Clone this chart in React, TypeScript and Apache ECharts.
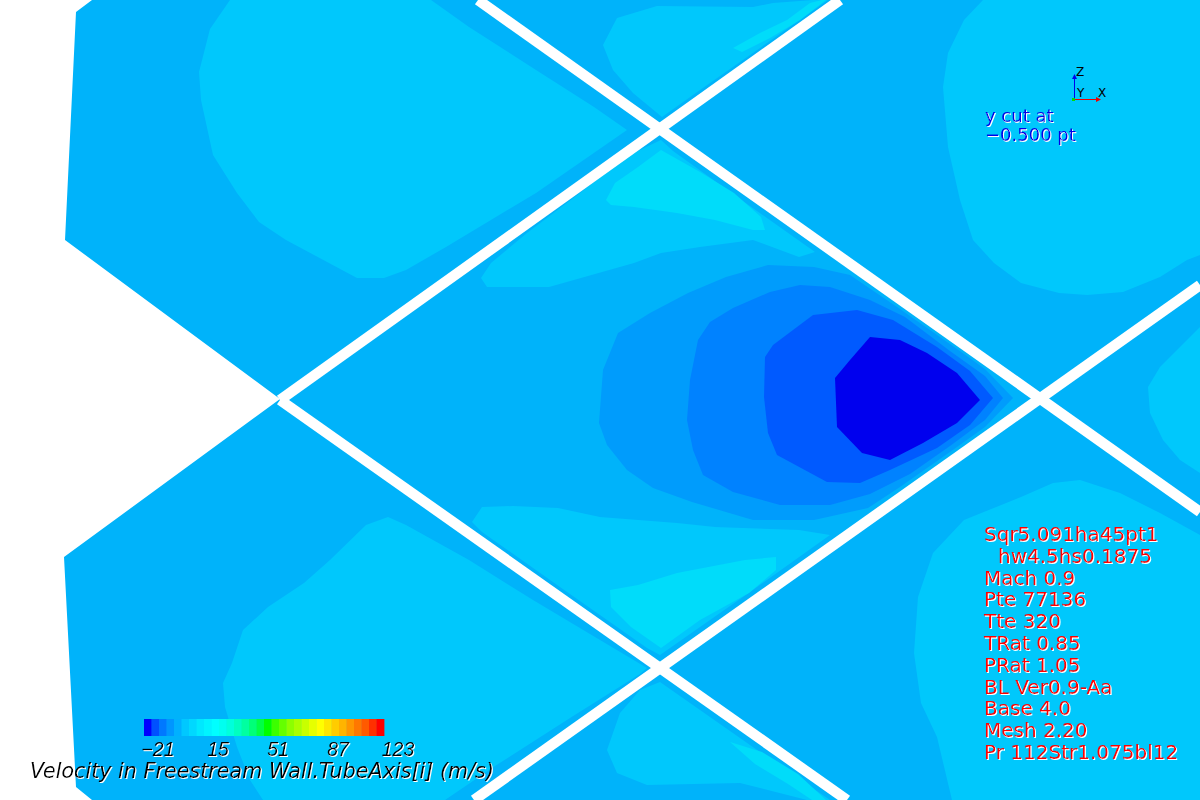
import React, { useEffect, useRef } from "react";
import * as echarts from "echarts";

// ---------- contour band colours (low -> high velocity) ----------
const C1 = "#0000ee";
const C2 = "#005aff";
const C3 = "#0082ff";
const C4 = "#009cfc";
const C5 = "#00b3fa";
const C6 = "#00c8fc";
const C7 = "#00dcfa";

// ---------- flow domain and contour regions (plot units, y down) ----------
const domainOutline = [[92,0],[1200,0],[1200,800],[92,800],[76,787],[64,557],[280,399],[65,240],[76,12]];

const lightTopLeft = [[230,0],[210,29],[199,72],[201,100],[213,155],[237,193],[259,222],[286,240],[357,278],[384,278],[406,270],[446,247],[536,193],[627,130],[594,107],[536,70],[469,27],[431,0]];
const lightTopTri = [[617,18],[657,6],[753,7],[773,3],[813,0],[828,0],[760,48],[700,90],[662,117],[633,93],[613,70],[603,45]];
const lightTopRight = [[983,0],[964,20],[948,53],[943,87],[948,147],[960,200],[973,240],[994,263],[1021,283],[1059,293],[1087,295],[1123,292],[1160,277],[1187,260],[1200,255],[1200,0]];
const lightRight = [[1200,327],[1180,347],[1160,367],[1148,387],[1150,413],[1163,440],[1180,460],[1200,473]];
const lightLowerRight = [[952,800],[937,737],[921,703],[914,653],[918,597],[933,553],[964,520],[1021,497],[1053,483],[1080,480],[1120,493],[1160,513],[1200,535],[1200,800]];
const lightCenterTop = [[661,140],[625,157],[580,193],[527,233],[491,263],[481,278],[487,287],[549,287],[634,263],[661,253],[700,247],[753,240],[799,257],[815,252],[740,199],[673,151]];
const lightCenterBottom = [[472,522],[482,507],[513,506],[558,508],[600,517],[677,523],[715,527],[799,530],[830,535],[750,592],[670,648],[660,655],[647,648],[560,587],[482,532]];
const lightLowerLeft = [[388,517],[366,525],[330,560],[304,583],[268,607],[243,630],[232,663],[223,683],[225,707],[237,747],[250,780],[263,800],[445,800],[495,766],[570,718],[640,674],[647,668],[600,640],[533,600],[469,560],[406,525]];
const lightBottom = [[660,682],[700,710],[760,752],[830,800],[807,800],[740,783],[647,785],[617,773],[607,750],[620,713],[640,690]];

const lightestCenterTop = [[661,150],[700,172],[734,193],[761,217],[765,230],[753,230],[715,220],[677,213],[634,207],[611,205],[606,200],[615,183],[638,167]];
const lightestCenterBottom = [[610,590],[638,585],[677,573],[745,560],[776,557],[776,570],[749,593],[700,620],[661,648],[631,627],[611,607]];
const lightestTopTri = [[733,48],[760,33],[787,20],[810,3],[822,0],[826,0],[800,20],[770,38],[742,52]];
const lightestBottom = [[730,742],[762,752],[798,774],[826,800],[812,800],[788,784],[755,764]];

const wakeC4 = [[599,423],[603,370],[618,333],[650,313],[688,293],[726,277],[768,265],[814,267],[850,275],[900,309],[950,344],[985,369],[1013,398],[985,427],[950,452],[900,487],[868,508],[814,520],[753,520],[692,502],[653,488],[627,470],[607,445]];
const wakeC3 = [[687,420],[690,380],[698,340],[710,322],[733,308],[770,292],[800,285],[830,287],[870,300],[905,317],[950,351],[985,376],[1003,398],[985,420],[950,446],[910,474],[870,494],[830,505],[780,505],[733,492],[703,475],[693,450]];
const wakeC2 = [[764,397],[765,357],[773,345],[813,315],[857,310],[893,320],[937,347],[970,371],[993,398],[970,425],[937,448],[890,470],[860,483],[827,482],[777,455],[768,433]];
const wakeC1 = [[870,337],[900,340],[927,353],[957,373],[980,400],[957,423],[923,443],[890,460],[862,453],[837,427],[835,378],[850,360]];

// white slots between the tubes: [x1, y1, x2, y2]
const slits = [[280,400,840,0],[478,0,1200,512],[1200,285,474,800],[280,400,847,800]];

// ---------- colour bar ----------
const colorbarColors = ["#0000ff","#0050ff","#0078ff","#0096ff","#00b0ff","#00c8ff","#00d8ff","#00e8ff","#00f4ff","#00ffff","#00fff0","#00ffdc","#00ffc0","#00ffa0","#00ff78","#00ff46","#00ff00","#3cff00","#64ff00","#8cff00","#aaff00","#c8ff00","#e6ff00","#ffff00","#ffe600","#ffcc00","#ffb400","#ff9600","#ff7800","#ff5a00","#ff3000","#ff0000"];
const colorbarMin = -21;
const colorbarMax = 123;
const colorbarTick = 36;
const colorbarTitle = "Velocity in Freestream Wall.TubeAxis[i] (m/s)";

// ---------- annotations ----------
const cutLabel = ["y cut at", "\u22120.500 pt"];
const runInfo = ["Sqr5.091ha45pt1", "hw4.5hs0.1875", "Mach 0.9", "Pte 77136", "Tte 320", "TRat 0.85", "PRat 1.05", "BL Ver0.9-Aa", "Base 4.0", "Mesh 2.20", "Pr 112Str1.075bl12"];
const runInfoIndent = [0, 14, 0, 0, 0, 0, 0, 0, 0, 0, 0];

const layers = [
  { pts: domainOutline, color: C5 },
  { pts: lightTopLeft, color: C6 },
  { pts: lightTopTri, color: C6 },
  { pts: lightTopRight, color: C6 },
  { pts: lightRight, color: C6 },
  { pts: lightLowerRight, color: C6 },
  { pts: lightCenterTop, color: C6 },
  { pts: lightCenterBottom, color: C6 },
  { pts: lightLowerLeft, color: C6 },
  { pts: lightBottom, color: C6 },
  { pts: lightestCenterTop, color: C7 },
  { pts: lightestCenterBottom, color: C7 },
  { pts: lightestTopTri, color: C7 },
  { pts: lightestBottom, color: C7 },
  { pts: wakeC4, color: C4 },
  { pts: wakeC3, color: C3 },
  { pts: wakeC2, color: C2 },
  { pts: wakeC1, color: C1 },
];

const shadow = { textShadowColor: "#ffffff", textShadowBlur: 0.1, textShadowOffsetX: 1, textShadowOffsetY: 1 };

export default function App() {
  const ref = useRef<HTMLDivElement>(null);
  useEffect(() => {
    if (!ref.current) return;
    const chart = echarts.init(ref.current, undefined, { renderer: "svg" });
    const step = (colorbarMax - colorbarMin) / colorbarColors.length;

    const graphics: any[] = [];
    graphics.push({
      type: "text", x: 30, y: 771, z: 100,
      style: { text: colorbarTitle, fill: "#000", font: 'italic 20.7px "DejaVu Sans"', verticalAlign: "middle", align: "left", ...shadow },
    });
    cutLabel.forEach((t, i) => graphics.push({
      type: "text", x: 985, y: 115 + i * 19.5, z: 100,
      style: { text: t, fill: "#0000e6", font: '18px "DejaVu Sans"', verticalAlign: "middle", align: "left", ...shadow },
    }));
    runInfo.forEach((t, i) => graphics.push({
      type: "text", x: 984 + runInfoIndent[i], y: 534 + i * 21.8, z: 100,
      style: { text: t, fill: "#ff0000", font: '20px "DejaVu Sans"', verticalAlign: "middle", align: "left", ...shadow },
    }));
    // orientation triad
    graphics.push(
      { type: "line", z: 100, shape: { x1: 1074.5, y1: 100, x2: 1074.5, y2: 77 }, style: { stroke: "#0000ee", lineWidth: 1 } },
      { type: "polygon", z: 100, shape: { points: [[1072, 79], [1077, 79], [1074.5, 74]] }, style: { fill: "#0000ee" } },
      { type: "line", z: 100, shape: { x1: 1074, y1: 99.5, x2: 1099, y2: 99.5 }, style: { stroke: "#ee0000", lineWidth: 1 } },
      { type: "polygon", z: 100, shape: { points: [[1096, 97], [1096, 102], [1101, 99.5]] }, style: { fill: "#ee0000" } },
      { type: "rect", z: 100, shape: { x: 1072, y: 98, width: 3, height: 3 }, style: { fill: "#00dd00" } },
      { type: "text", z: 100, x: 1076, y: 72, style: { text: "Z", fill: "#000", font: '12px "DejaVu Sans"', verticalAlign: "middle", align: "left" } },
      { type: "text", z: 100, x: 1077, y: 93, style: { text: "Y", fill: "#000", font: '12px "DejaVu Sans"', verticalAlign: "middle", align: "left" } },
      { type: "text", z: 100, x: 1098, y: 93, style: { text: "X", fill: "#000", font: '12px "DejaVu Sans"', verticalAlign: "middle", align: "left" } },
    );

    chart.setOption({
      animation: false,
      backgroundColor: "#ffffff",
      grid: [
        { left: 0, top: 0, width: 1200, height: 800, z: 0 },
        { left: 144, top: 719, width: 240, height: 17, z: 20 },
      ],
      xAxis: [
        { type: "value", min: 0, max: 1200, show: false, gridIndex: 0 },
        {
          type: "value", gridIndex: 1, min: colorbarMin, max: colorbarMax, interval: colorbarTick, z: 30,
          axisLine: { show: false }, axisTick: { show: false }, splitLine: { show: false },
          axisLabel: {
            show: true, margin: 3, color: "#000", fontSize: 19.5, fontStyle: "italic", fontFamily: "Liberation Sans",
            padding: [0, 0, 0, 28], ...shadow,
            formatter: (v: number) => (v < 0 ? "\u2212" + Math.abs(v) : String(v)),
          },
        },
      ],
      yAxis: [
        { type: "value", min: 0, max: 800, inverse: true, show: false, gridIndex: 0 },
        { type: "value", min: 0, max: 1, show: false, gridIndex: 1 },
      ],
      series: [
        {
          type: "custom", name: "contours", xAxisIndex: 0, yAxisIndex: 0, silent: true, z: 1,
          data: layers.map((l) => l.pts[0]),
          renderItem: (params: any, api: any) => {
            const L = layers[params.dataIndex];
            return { type: "polygon", shape: { points: L.pts.map((p) => api.coord(p)) }, style: { fill: L.color } };
          },
        },
        {
          type: "custom", name: "slits", xAxisIndex: 0, yAxisIndex: 0, silent: true, z: 2,
          data: slits.map((s) => [s[0], s[1]]),
          renderItem: (params: any, api: any) => {
            const s = slits[params.dataIndex];
            const a = api.coord([s[0], s[1]]);
            const b = api.coord([s[2], s[3]]);
            return { type: "line", shape: { x1: a[0], y1: a[1], x2: b[0], y2: b[1] }, style: { stroke: "#ffffff", lineWidth: 10.5 } };
          },
        },
        {
          type: "custom", name: "colorbar", xAxisIndex: 1, yAxisIndex: 1, silent: true, z: 20,
          data: colorbarColors.map((c, i) => [colorbarMin + i * step, 0]),
          renderItem: (params: any, api: any) => {
            const i = params.dataIndex;
            const lo = colorbarMin + i * step;
            const p0 = api.coord([lo, 1]);
            const p1 = api.coord([lo + step, 0]);
            return { type: "rect", shape: { x: p0[0], y: p0[1], width: p1[0] - p0[0] + 0.4, height: p1[1] - p0[1] }, style: { fill: colorbarColors[i] } };
          },
        },
      ],
      graphic: { elements: graphics },
    });
    return () => chart.dispose();
  }, []);
  return <div ref={ref} style={{ position: "fixed", left: 0, top: 0, width: 1200, height: 800 }} />;
}
